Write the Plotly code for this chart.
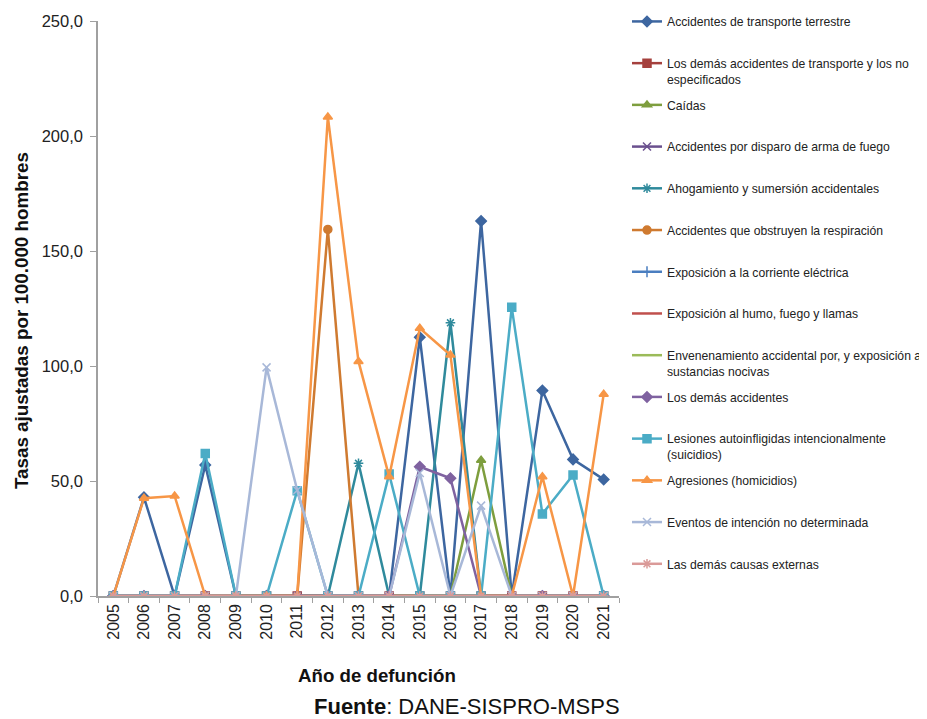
import plotly.graph_objects as go

years = [str(y) for y in range(2005, 2022)]

transporte_terrestre = [0, 42.9, 0, 57.0, 0, 0, 0, 0, 0, 0, 112.5, 0, 163.0, 0, 89.3, 59.4, 50.7]
demas_transporte = [0] * 17
caidas = [0, 0, 0, 0, 0, 0, 0, 0, 0, 0, 0, 0, 59.0, 0, 0, 0, 0]
disparo = [0] * 17
ahogamiento = [0, 0, 0, 0, 0, 0, 0, 0, 57.7, 0, 0, 118.8, 0, 0, 0, 0, 0]
obstruyen = [0, 0, 0, 0, 0, 0, 0, 159.4, 0, 0, 0, 0, 0, 0, 0, 0, 0]
corriente = [0] * 17
humo = [0] * 17
envenenamiento = [0] * 17
demas_accidentes = [0, 0, 0, 0, 0, 0, 0, 0, 0, 0, 56.2, 51.2, 0, 0, 0, 0, 0]
suicidios = [0, 0, 0, 62.0, 0, 0, 45.8, 0, 0, 53.0, 0, 0, 0, 125.5, 35.7, 52.6, 0]
homicidios = [0, 42.5, 43.5, 0, 0, 0, 0, 208.3, 102.0, 51.9, 116.4, 104.8, 0, 0, 51.9, 0, 87.7]
no_determinada = [0, 0, 0, 0, 0, 99.4, 46.0, 0, 0, 0, 53.5, 0, 39.3, 0, 0, 0, 0]
demas_causas = [0] * 17

series = [
    ("Accidentes de transporte terrestre", transporte_terrestre, "#3D66A0", "diamond"),
    ("Los demás accidentes de transporte y los no<br>especificados", demas_transporte, "#A5403D", "square"),
    ("Caídas", caidas, "#7E9E3E", "triangle-up"),
    ("Accidentes por disparo de arma de fuego", disparo, "#6A508E", "x-thin-open"),
    ("Ahogamiento y sumersión accidentales", ahogamiento, "#2F8A9C", "asterisk-open"),
    ("Accidentes que obstruyen la respiración", obstruyen, "#CF7A30", "circle"),
    ("Exposición a la corriente eléctrica", corriente, "#4A7EC0", "cross-thin-open"),
    ("Exposición al humo, fuego y llamas", humo, "#C0504D", None),
    ("Envenenamiento accidental por, y exposición a<br>sustancias nocivas", envenenamiento, "#9BBB59", None),
    ("Los demás accidentes", demas_accidentes, "#7F62A0", "diamond"),
    ("Lesiones autoinfligidas intencionalmente<br>(suicidios)", suicidios, "#4BACC6", "square"),
    ("Agresiones (homicidios)", homicidios, "#F79646", "triangle-up"),
    ("Eventos de intención no determinada", no_determinada, "#A8B8D8", "x-thin-open"),
    ("Las demás causas externas", demas_causas, "#DA9A98", "asterisk-open"),
]

# the page body has an 8px margin: figure coords = screen coords - 8
OFF = 8
W, H = 927 - OFF, 719 - OFF
l, t = 98 - OFF, 21 - OFF
right_edge, bottom_edge = 619 - OFF, 596 - OFF
r, b = W - right_edge, H - bottom_edge
pw, ph = W - l - r, H - t - b

def px_x(X):
    return (X - OFF - l) / pw

def px_y(Y):
    return (H - b - (Y - OFF)) / ph

fig = go.Figure()
for i, (name, vals, color, sym) in enumerate(series):
    label = name if "<br>" in name else name + "<br>&nbsp;"
    if sym is None:
        fig.add_trace(go.Scatter(x=years, y=vals, name=label, mode="lines",
                                 line=dict(color=color, width=2.5), legendgroup=str(i)))
    else:
        mk = dict(symbol=sym, size=8, color=color, line=dict(color=color, width=1.5))
        fig.add_trace(go.Scatter(x=years, y=vals, name=label, mode="lines+markers",
                                 line=dict(color=color, width=2.5), marker=mk, legendgroup=str(i)))

font = "Liberation Sans, Arial, sans-serif"
fig.update_layout(
    width=W, height=H,
    margin=dict(l=l, r=r, t=t, b=b, autoexpand=False),
    paper_bgcolor="white", plot_bgcolor="white",
    separators=",.",
    showlegend=True,
    legend=dict(x=px_x(627), y=px_y(7), xanchor="left", yanchor="top",
                font=dict(family=font, size=12.2, color="#222222"),
                traceorder="grouped", tracegroupgap=7, valign="top",
                itemwidth=30, bgcolor="rgba(0,0,0,0)", maxheight=700),
    xaxis=dict(type="category", tickson="boundaries", ticks="outside", ticklen=5,
               tickcolor="#A0A0A0", showline=True, linecolor="#A0A0A0", linewidth=1.5,
               showgrid=False, tickangle=-90, automargin=False,
               tickfont=dict(family=font, size=16, color="#222222"),
               range=[-0.5, 16.5]),
    yaxis=dict(range=[0, 250], dtick=50, tickformat=".1f", ticks="outside", ticklen=6,
               tickcolor="#A0A0A0", showline=True, linecolor="#A0A0A0", linewidth=1.5,
               showgrid=False, zeroline=False, automargin=False, ticklabelstandoff=4,
               tickfont=dict(family=font, size=16.5, color="#222222")),
    annotations=[
        dict(text="<b>Tasas ajustadas por 100.000 hombres</b>", xref="paper", yref="paper",
             x=px_x(21), y=px_y(321), textangle=-90, showarrow=False,
             xanchor="center", yanchor="middle",
             font=dict(family=font, size=18.8, color="#111111")),
        dict(text="<b>Año de defunción</b>", x=px_x(377), y=px_y(675), xref="paper", yref="paper",
             showarrow=False, xanchor="center", yanchor="middle",
             font=dict(family=font, size=18.7, color="#111111")),
        dict(text="<b>Fuente</b>: DANE-SISPRO-MSPS", x=px_x(467), y=px_y(706), xref="paper", yref="paper",
             showarrow=False, xanchor="center", yanchor="middle",
             font=dict(family=font, size=22, color="#111111")),
    ],
)

fig.write_html("out.html")
